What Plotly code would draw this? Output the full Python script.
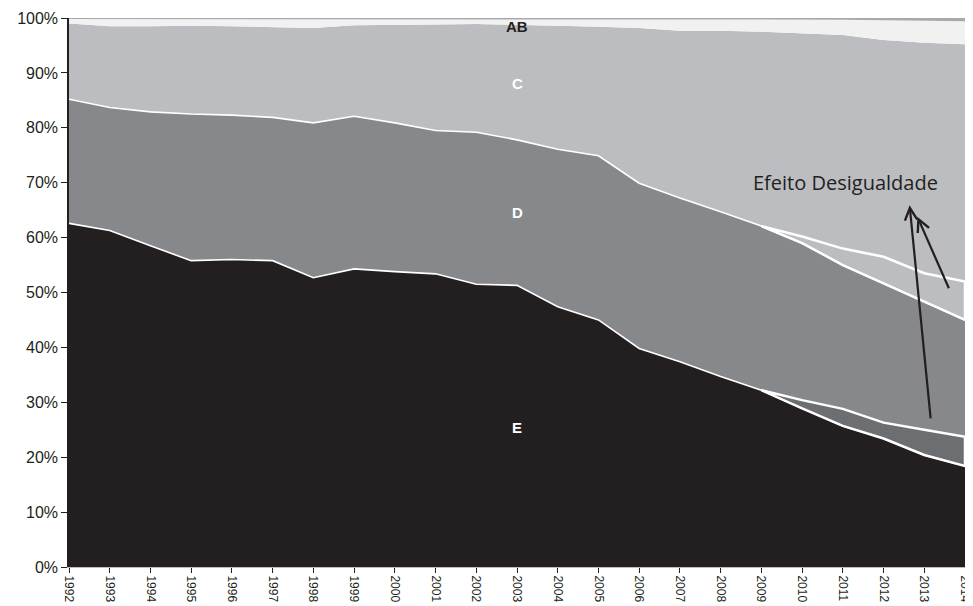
import plotly.graph_objects as go

# Anos
anos = list(range(1992, 2015))

# Participação (%) de cada classe na população
classe_e = [62.6, 61.3, 58.5, 55.8, 56.0, 55.8, 52.7, 54.3, 53.8, 53.4, 51.5, 51.3,
            47.4, 45.0, 39.8, 37.4, 34.7, 32.2, 28.9, 25.7, 23.4, 20.4, 18.4]
classe_d = [22.6, 22.4, 24.4, 26.7, 26.3, 26.1, 28.2, 27.8, 27.1, 26.1, 27.7, 26.5,
            28.7, 29.9, 30.1, 29.8, 30.0, 29.9, 30.1, 29.3, 28.3, 27.9, 26.6]
classe_c = [13.8, 14.8, 15.6, 16.1, 16.2, 16.5, 17.3, 16.6, 17.8, 19.3, 19.7, 21.0,
            22.5, 23.5, 28.3, 30.5, 33.0, 35.4, 38.2, 41.9, 44.3, 47.2, 50.2]
classe_ab = [0.8, 1.3, 1.3, 1.2, 1.3, 1.4, 1.6, 1.1, 1.1, 1.0, 0.9, 1.0,
             1.2, 1.4, 1.6, 2.1, 2.1, 2.3, 2.6, 2.8, 3.6, 4.0, 4.2]
classe_a = [0.2] * 19 + [0.3, 0.4, 0.5, 0.6]

# Cenário sem mudança na desigualdade (2009-2014)
anos_cf = list(range(2009, 2015))
e_cf = [32.2, 30.4, 28.8, 26.3, 25.0, 23.7]
d_cf = [29.9, 29.8, 29.2, 30.2, 28.5, 28.3]

preto = "#231f20"
cores = {"E": preto, "D": "#87888b", "C": "#bcbdc0", "AB": "#f1f1f2", "A": "#a7a9ac"}

fig = go.Figure()

series = [("E", classe_e, 1.6), ("D", classe_d, 1.6), ("C", classe_c, 0),
          ("AB", classe_ab, 0), ("A", classe_a, 0)]
for nome, valores, lw in series:
    fig.add_trace(go.Scatter(
        x=anos, y=valores, name=nome, mode="lines", stackgroup="um",
        fillcolor=cores[nome],
        line=dict(color="white" if lw else cores[nome], width=lw),
    ))

# Topo efetivo de E e de E+D no período do contrafactual
i0 = anos.index(2009)
e_real = classe_e[i0:]
ed_real = [a + b for a, b in zip(classe_e[i0:], classe_d[i0:])]
ed_cf = [a + b for a, b in zip(e_cf, d_cf)]

fig.add_trace(go.Scatter(
    x=anos_cf + anos_cf[::-1], y=e_cf + e_real[::-1],
    fill="toself", fillcolor="#6d6e71", mode="lines",
    line=dict(color="white", width=2.5),
))
fig.add_trace(go.Scatter(
    x=anos_cf + anos_cf[::-1], y=ed_cf + ed_real[::-1],
    fill="toself", fillcolor=cores["C"], mode="lines",
    line=dict(color="white", width=2.5),
))

# Rótulos das classes
rotulos = [("AB", 98.5, preto), ("C", 88.0, "white"), ("D", 64.5, "white"), ("E", 25.5, "white")]
for txt, yy, cor in rotulos:
    fig.add_annotation(x=2003, y=yy, text="<b>%s</b>" % txt, showarrow=False,
                       font=dict(family="Liberation Sans, Arial", size=15, color=cor))

fig.add_annotation(x=2011.07, y=70.1, text="Efeito Desigualdade", showarrow=False,
                   font=dict(family="Open Sans, Noto Sans", size=20, color=preto))

# Setas
setas = [(2012.64, 65.9, 2013.16, 26.8), (2012.83, 63.8, 2013.62, 50.5)]
for x, y, ax, ay in setas:
    fig.add_annotation(x=x, y=y, ax=ax, ay=ay, xref="x", yref="y", axref="x", ayref="y",
                       text="", showarrow=True, arrowhead=5, arrowsize=1.1,
                       arrowwidth=2.2, arrowcolor=preto)

# A página tem 8 px de margem no body: a figura é deslocada para compensar
fig.update_layout(
    width=957, height=598,
    margin=dict(l=61, r=0, t=10, b=39),
    paper_bgcolor="white", plot_bgcolor="white",
    showlegend=False,
    font=dict(family="Liberation Sans, Arial", color=preto),
    xaxis=dict(
        range=[1992, 2014], tickmode="array", tickvals=anos,
        ticktext=[str(a) for a in anos], tickangle=90,
        tickfont=dict(size=12, color=preto), ticks="outside", ticklen=5,
        tickcolor=preto, showgrid=False, zeroline=False, ticklabeloverflow="allow",
        showline=True, linecolor="#bcbdc0", linewidth=1, automargin=False,
    ),
    yaxis=dict(
        range=[0, 100], tickmode="array", tickvals=list(range(0, 101, 10)),
        ticktext=["%d%%" % v for v in range(0, 101, 10)],
        tickfont=dict(size=16, color=preto), ticks="outside", ticklen=6,
        tickcolor=preto, showgrid=False, zeroline=False,
        showline=True, linecolor=preto, linewidth=1.5, automargin=False,
    ),
)

fig.write_html("out.html")
